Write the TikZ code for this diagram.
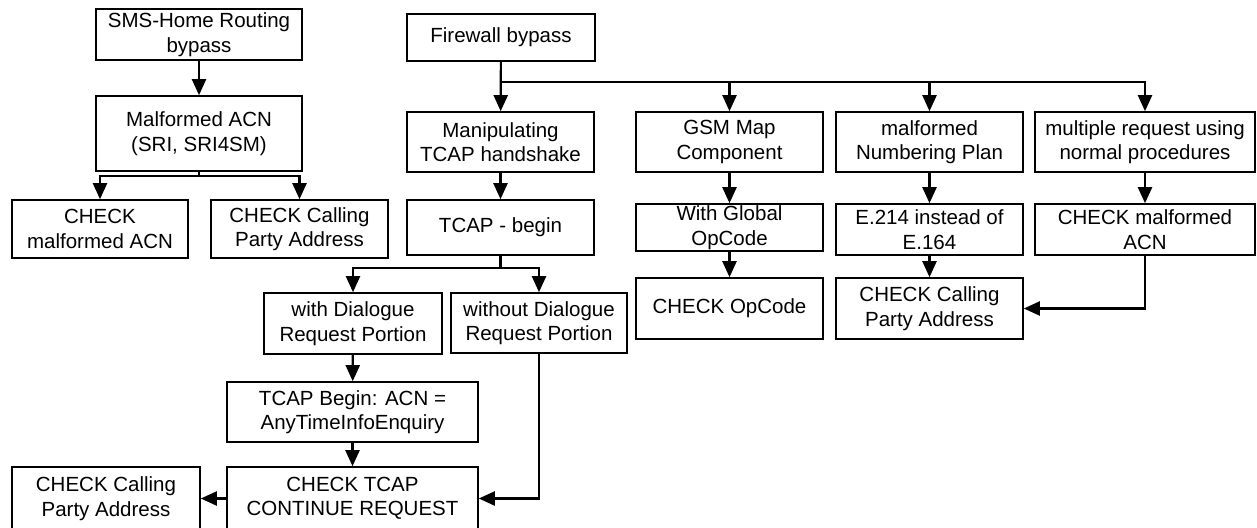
\documentclass[tikz,border=0pt]{standalone}
\usepackage{fontspec}
\setmainfont{Liberation Sans}
\usetikzlibrary{arrows.meta}
\tikzset{
BOX/.style 2 args={draw=black,line width=1.6pt,align=center,inner sep=0pt,minimum width=#1pt,minimum height=#2pt,font=\fontsize{20.5}{24.5}\selectfont},
LINK/.style={draw=black,line width=2.2pt,-{Triangle[length=16pt,width=14pt]}},
}
\begin{document}
\begin{tikzpicture}[x=1pt,y=-1pt]
	\useasboundingbox (0,0) rectangle (1257,527);
	%SMS-Home Routing branch
	\node[BOX={206}{51}] (sms) at (199,34.5) {SMS-Home Routing\\bypass};
	\node[BOX={206}{75}] (acn) at (199,133.5) {Malformed ACN\\(SRI, SRI4SM)};
	\node[BOX={176}{58}] (chkacn) at (100,229) {CHECK\\malformed ACN};
	\node[BOX={177}{58}] (chkcalla) at (299.5,229) {CHECK Calling\\Party Address};
	\path[LINK] (sms) -- (acn);
	\path[LINK] (acn.south) -- ++(0,4) -| (chkacn.north);
	\path[LINK] (acn.south) -- ++(0,4) -| (chkcalla.north);
	%Firewall branch
	\node[BOX={188}{47}] (fw) at (501,37.5) {Firewall bypass};
	\node[BOX={187}{60}] (manip) at (500.5,142) {Manipulating\\TCAP handshake};
	\node[BOX={187}{60}] (gsm) at (729.5,142) {GSM Map\\Component};
	\node[BOX={187}{60}] (numb) at (929.5,142) {malformed\\Numbering Plan};
	\node[BOX={220}{60}] (multi) at (1145,142) {multiple request using\\normal procedures};
	\path[LINK] (fw) -- (manip);
	\path[LINK] (fw.south) -- ++(0,20) -| (gsm.north);
	\path[LINK] (fw.south) -- ++(0,20) -| (numb.north);
	\path[LINK] (fw.south) -- ++(0,20) -| (multi.north);
	%TCAP handshake
	\node[BOX={187}{55}] (tbegin) at (500.5,227.5) {TCAP - begin};
	\node[BOX={178}{61}] (withd) at (353,323.5) {with Dialogue\\Request Portion};
	\node[BOX={176}{60}] (without) at (539,323) {without Dialogue\\Request Portion};
	\node[BOX={251}{60}] (tbacn) at (352.5,412) {TCAP Begin: ACN =\\AnyTimeInfoEnquiry};
	\node[BOX={251}{63}] (chktcap) at (352.5,498.5) {CHECK TCAP\\CONTINUE REQUEST};
	\node[BOX={188}{63}] (chkcallc) at (106,498.5) {CHECK Calling\\Party Address};
	\path[LINK] (manip) -- (tbegin);
	\path[LINK] (tbegin.south) -- ++(0,12) -| (withd.north);
	\path[LINK] (tbegin.south) -- ++(0,12) -| (without.north);
	\path[LINK] (withd) -- (tbacn);
	\path[LINK] (tbacn) -- (chktcap);
	\path[LINK] (without.south) |- (chktcap.east);
	\path[LINK] (chktcap) -- (chkcallc);
	%GSM Map and numbering plan
	\node[BOX={187}{47}] (glob) at (729.5,227.5) {With Global\\OpCode};
	\node[BOX={187}{61}] (chkop) at (729.5,308.5) {CHECK OpCode};
	\node[BOX={187}{51}] (e214) at (929.5,229.5) {E.214 instead of\\E.164};
	\node[BOX={187}{61}] (chkcallb) at (929.5,308.5) {CHECK Calling\\Party Address};
	\node[BOX={220}{51}] (chkmal) at (1145,229.5) {CHECK malformed\\ACN};
	\path[LINK] (gsm) -- (glob);
	\path[LINK] (glob) -- (chkop);
	\path[LINK] (numb) -- (e214);
	\path[LINK] (e214) -- (chkcallb);
	\path[LINK] (multi) -- (chkmal);
	\path[LINK] (chkmal.south) |- (chkcallb.east);
\end{tikzpicture}
\end{document}
